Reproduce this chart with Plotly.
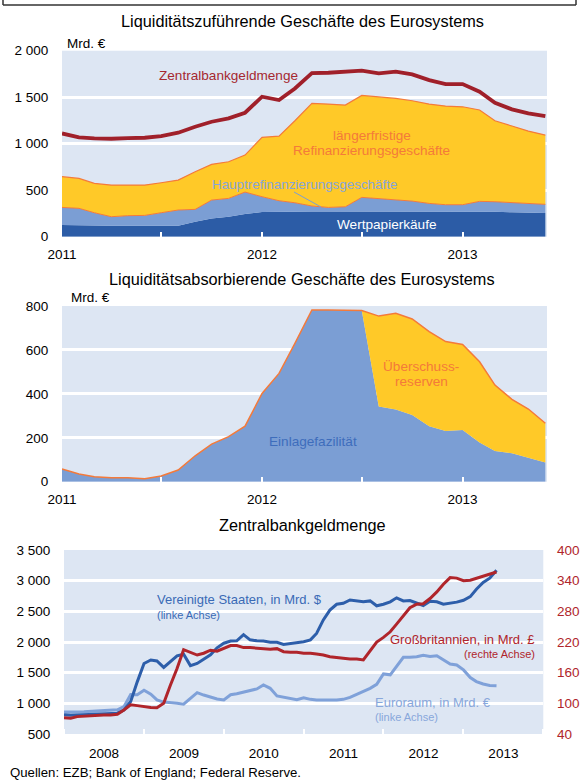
import plotly.graph_objects as go
import pandas as pd

# ---------------- data ----------------
months_a = pd.date_range("2011-01-01", "2013-06-01", freq="MS")  # Jan 2011 .. Jun 2013

# Panel 1: Liquiditätszuführende Geschäfte (Mrd. €)
wertpapier = [125, 120, 118, 118, 118, 118, 118, 118, 161, 197, 215, 244, 265, 269, 270,
              272, 272, 272, 272, 272, 272, 272, 272, 272, 272, 270, 268, 262, 256, 254]
hauptrefi = [190, 185, 140, 97, 108, 111, 140, 169, 133, 197, 197, 236, 165, 118, 95,
             58, 43, 50, 151, 140, 122, 111, 86, 72, 72, 110, 108, 107, 102, 94]
laengerfr = [330, 322, 315, 340, 329, 326, 322, 322, 405, 384, 394, 398, 638, 695, 882,
             1103, 1111, 1093, 1096, 1093, 1093, 1079, 1068, 1061, 1053, 982, 871, 821, 778, 745]
zbgm = [1110, 1068, 1057, 1053, 1060, 1064, 1082, 1118, 1182, 1236, 1272, 1333, 1505, 1469, 1594,
        1760, 1763, 1770, 1785, 1756, 1775, 1745, 1684, 1641, 1641, 1559, 1440, 1369, 1326, 1297]

# Panel 2: Liquiditätsabsorbierende Geschäfte (Mrd. €)
einlage = [58, 35, 23, 18, 18, 14, 26, 53, 118, 171, 205, 253, 402, 493, 630,
           782, 782, 782, 779, 342, 329, 304, 253, 231, 235, 178, 140, 129, 109, 87]
ueberschuss = [0, 0, 0, 0, 0, 0, 0, 0, 0, 0, 0, 0, 0, 0, 0,
               0, 0, 0, 0, 412, 438, 437, 430, 407, 390, 368, 300, 246, 222, 179]

# Panel 3: Zentralbankgeldmenge, monthly Jan 2008 .. Jun 2013
months_b = pd.date_range("2008-01-01", periods=66, freq="MS")
usa = [815, 805, 810, 815, 820, 825, 830, 832, 840, 890, 1030, 1350, 1650, 1707, 1690, 1585,
       1680, 1775, 1800, 1615, 1650, 1720, 1790, 1905, 1980, 2015, 2020, 2120, 2035, 2020,
       2015, 1995, 1995, 1960, 1975, 1990, 2005, 2035, 2140, 2360, 2520, 2615, 2630, 2685,
       2670, 2655, 2670, 2590, 2615, 2655, 2720, 2670, 2675, 2630, 2595, 2665, 2655, 2615,
       2630, 2650, 2680, 2740, 2860, 2970, 3040, 3170]
euro = [860, 855, 858, 862, 868, 872, 878, 885, 895, 945, 1145, 1140, 1215, 1150, 1055, 1020,
        1015, 1000, 985, 1080, 1175, 1135, 1100, 1070, 1055, 1140, 1155, 1180, 1210, 1235,
        1300, 1245, 1120, 1098, 1071, 1060, 1092, 1065, 1054, 1049, 1054, 1054, 1065, 1098,
        1147, 1201, 1245, 1310, 1480, 1465, 1610, 1750, 1752, 1760, 1785, 1765, 1775, 1710,
        1640, 1625, 1545, 1420, 1355, 1315, 1290, 1285]
uk = [72, 71, 74, 75, 76, 76.5, 77, 77, 78.5, 87, 97, 95.5, 93.5, 92, 91.5, 100,
      135, 168, 205, 200, 194.5, 198, 204, 202, 207, 213, 213, 209, 209, 207.6,
      207.6, 206, 207, 201, 200, 200, 198, 198, 196.5, 194.5, 191, 189, 188, 186.7,
      186.7, 185, 204, 220, 229, 240, 255, 271, 287, 294, 295, 305, 318, 333,
      346, 345, 340, 341, 345, 348, 353, 357]

y1_ticks = [0, 500, 1000, 1500, 2000]
y1_text = ["0", "500", "1 000", "1 500", "2 000"]
y2_ticks = [0, 200, 400, 600, 800]
y2_text = ["0", "200", "400", "600", "800"]
y3_ticks = [500, 1000, 1500, 2000, 2500, 3000, 3500]
y3_text = ["500", "1 000", "1 500", "2 000", "2 500", "3 000", "3 500"]
y4_ticks = [40, 100, 160, 220, 280, 340, 400]
year_ticks_a = ["2011-01-01", "2012-01-01", "2013-01-01"]
year_text_a = ["2011", "2012", "2013"]

# ---------------- styles ----------------
W, H = 580, 780
BG = "#DDE6F3"
DARKBLUE = "#2C5CA6"
LIGHTBLUE = "#7B9ED4"
YELLOW = "#FFC928"
ORANGE = "#F47A3A"
DARKRED = "#A0202A"
US_C = "#2D5EAA"
EU_C = "#7FA1D9"
UK_C = "#B0252B"
FONT = "Arial, Liberation Sans, sans-serif"
TICK_SIZE = 13.5

def px(x):
    return x / W

def py(y):
    return 1 - y / H

fig = go.Figure()

# Panel 1 stacked areas
fig.add_trace(go.Scatter(x=months_a, y=wertpapier, stackgroup="p1", mode="lines",
                         line=dict(width=0, color=DARKBLUE), fillcolor=DARKBLUE,
                         xaxis="x", yaxis="y"))
fig.add_trace(go.Scatter(x=months_a, y=hauptrefi, stackgroup="p1", mode="lines",
                         line=dict(width=1, color=ORANGE), fillcolor=LIGHTBLUE,
                         xaxis="x", yaxis="y"))
fig.add_trace(go.Scatter(x=months_a, y=laengerfr, stackgroup="p1", mode="lines",
                         line=dict(width=1.2, color=ORANGE), fillcolor=YELLOW,
                         xaxis="x", yaxis="y"))
fig.add_trace(go.Scatter(x=months_a, y=zbgm, mode="lines",
                         line=dict(width=3.8, color=DARKRED), xaxis="x", yaxis="y"))

# Panel 2 stacked areas
fig.add_trace(go.Scatter(x=months_a, y=einlage, stackgroup="p2", mode="lines",
                         line=dict(width=0, color=LIGHTBLUE), fillcolor=LIGHTBLUE,
                         xaxis="x2", yaxis="y2"))
fig.add_trace(go.Scatter(x=months_a, y=ueberschuss, stackgroup="p2", mode="lines",
                         line=dict(width=1.5, color=ORANGE), fillcolor=YELLOW,
                         xaxis="x2", yaxis="y2"))

# Panel 3 lines
fig.add_trace(go.Scatter(x=months_b, y=euro, mode="lines",
                         line=dict(width=3, color=EU_C), xaxis="x3", yaxis="y3"))
fig.add_trace(go.Scatter(x=months_b, y=usa, mode="lines",
                         line=dict(width=3, color=US_C), xaxis="x3", yaxis="y3"))
fig.add_trace(go.Scatter(x=months_b, y=uk, mode="lines",
                         line=dict(width=3, color=UK_C), xaxis="x3", yaxis="y4"))

tickfont = dict(family=FONT, size=TICK_SIZE, color="black")

def xaxis_a(anchor):
    return dict(domain=[px(62), px(547)], anchor=anchor, type="date",
                range=["2011-01-01", "2013-06-04"], tickmode="array",
                tickvals=year_ticks_a, ticktext=year_text_a,
                ticks="inside", ticklen=5, tickwidth=2, tickcolor="white",
                minor=dict(dtick="M6", tick0="2011-01-01", ticks="inside", ticklen=5,
                           tickwidth=2, tickcolor="white", showgrid=False),
                showgrid=False, zeroline=False, showline=False, automargin=False,
                tickfont=tickfont, ticklabelstandoff=8, fixedrange=True)

def yaxis(domain, rng, tv, tt, anchor, **kw):
    d = dict(domain=domain, range=rng, anchor=anchor, tickmode="array", tickvals=tv,
             ticktext=tt, showgrid=True, gridcolor="white", gridwidth=3, zeroline=False,
             showline=False, ticks="outside", ticklen=10, tickcolor="rgba(0,0,0,0)",
             tickfont=tickfont, fixedrange=True, automargin=False)
    d.update(kw)
    return d

fig.update_layout(
    width=W, height=H, margin=dict(l=0, r=0, t=0, b=0, autoexpand=False),
    paper_bgcolor="white", plot_bgcolor=BG, showlegend=False,
    font=dict(family=FONT, size=13, color="black"),
    xaxis=xaxis_a("y"),
    yaxis=yaxis([py(236.7), py(50.7)], [0, 2000], y1_ticks, y1_text, "x"),
    xaxis2=xaxis_a("y2"),
    yaxis2=yaxis([py(481.7), py(306)], [0, 800], y2_ticks, y2_text, "x2"),
    xaxis3=dict(domain=[px(64), px(543.3)], anchor="y3", type="date",
                range=["2008-01-01", "2014-01-01"], dtick="M12", tick0="2008-01-01",
                tickformat="%Y", ticklabelmode="period",
                ticks="inside", ticklen=5, tickwidth=2, tickcolor="white",
                showgrid=False, zeroline=False, showline=False, automargin=False,
                tickfont=tickfont, ticklabelstandoff=9, fixedrange=True),
    yaxis3=yaxis([py(734), py(550)], [500, 3500], y3_ticks, y3_text, "x3"),
    yaxis4=yaxis([py(734), py(550)], [40, 400], y4_ticks, [str(v) for v in y4_ticks], "x3",
                 overlaying="y3", side="right", showgrid=False, ticklen=10,
                 tickfont=dict(family=FONT, size=TICK_SIZE, color=UK_C)),
)

ann = []

def text(x, y, s, size=13, color="black", xanchor="center"):
    ann.append(dict(x=px(x), y=py(y), xref="paper", yref="paper", text=s, showarrow=False,
                    xanchor=xanchor, yanchor="middle",
                    font=dict(family=FONT, size=size, color=color)))

# titles
text(302, 21, "Liquiditätszuführende Geschäfte des Eurosystems", size=16.3)
text(302, 279, "Liquiditätsabsorbierende Geschäfte des Eurosystems", size=16.3)
text(302, 525, "Zentralbankgeldmenge", size=16.3)
text(65, 43, "Mrd. €", size=13.5, xanchor="left")
text(69, 297, "Mrd. €", size=13.5, xanchor="left")

# panel 1 labels
text(228, 75, "Zentralbankgeldmenge", size=13.6, color="#A52830")
text(372, 135, "längerfristige", size=13.6, color=ORANGE)
text(372, 151, "Refinanzierungsgeschäfte", size=13.6, color=ORANGE)
text(304, 184, "Hauptrefinanzierungsgeschäfte", size=13.4, color="#86A6DA")
text(387, 225, "Wertpapierkäufe", size=13.6, color="white")

# panel 2 labels
text(313, 441, "Einlagefazilität", size=13.6, color="#3E6DBC")
text(421, 366, "Überschuss-", size=13.6, color=ORANGE)
text(421, 381, "reserven", size=13.6, color=ORANGE)

# panel 3 labels
text(155, 599, "Vereinigte Staaten, in Mrd. $", color="#3A6AB6", xanchor="left")
text(155, 615, "(linke Achse)", size=11, color="#3A6AB6", xanchor="left")
text(537, 639, "Großbritannien, in Mrd. £", color=UK_C, xanchor="right")
text(537, 654, "(rechte Achse)", size=11, color=UK_C, xanchor="right")
text(373, 702, "Euroraum, in Mrd. €", color="#88A7DB", xanchor="left")
text(373, 717, "(linke Achse)", size=11, color="#88A7DB", xanchor="left")

# source
text(8, 772, "Quellen: EZB; Bank of England; Federal Reserve.", size=13.2, xanchor="left")

fig.update_layout(annotations=ann)

# decorative frame at top and pointer line
shapes = [
    dict(type="line", xref="paper", yref="paper", x0=px(3), x1=px(576), y0=py(5), y1=py(5),
         line=dict(color="#333333", width=1.5)),
    dict(type="line", xref="paper", yref="paper", x0=px(3), x1=px(3), y0=py(0), y1=py(5),
         line=dict(color="#333333", width=1.5)),
    dict(type="line", xref="paper", yref="paper", x0=px(576), x1=px(576), y0=py(0), y1=py(5),
         line=dict(color="#333333", width=1.5)),
    dict(type="line", xref="paper", yref="paper", x0=px(294), x1=px(321), y0=py(192), y1=py(207),
         line=dict(color="#7B9ED4", width=1)),
]
fig.update_layout(shapes=shapes)

fig.write_html("out.html", config={"displayModeBar": False},
               post_script="document.body.style.margin='0';document.body.style.overflow='hidden';"
                           "document.documentElement.style.overflow='hidden';")
